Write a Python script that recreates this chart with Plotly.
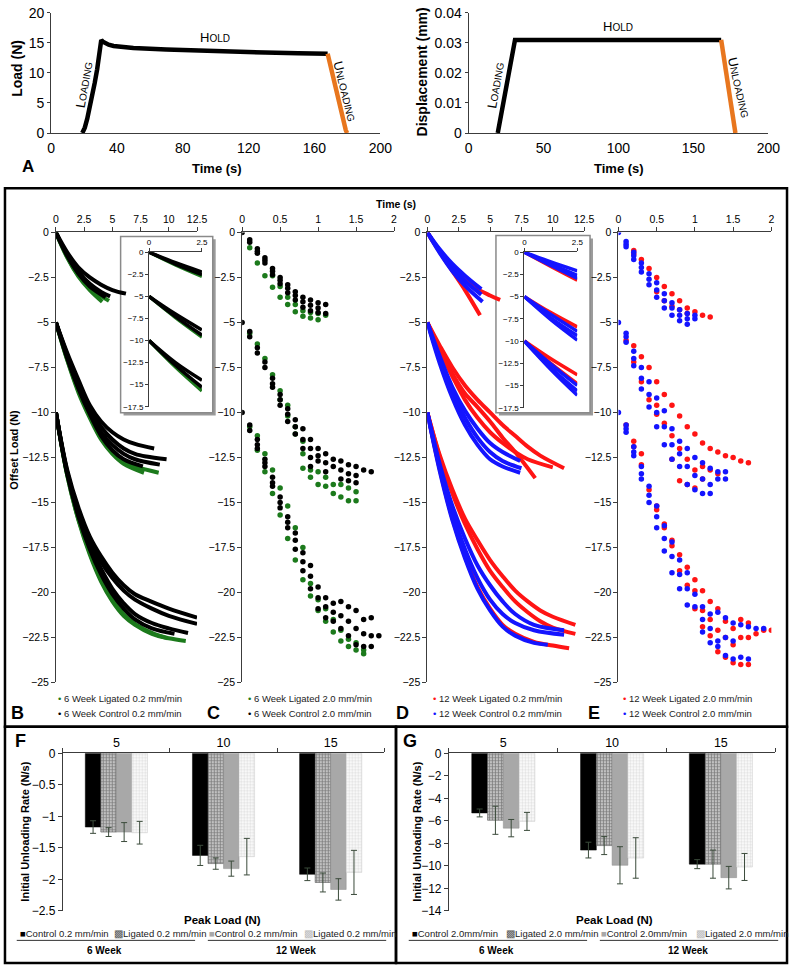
"""Unloading behaviour of the tissue: protocol, offset load curves and initial unloading rates."""

import plotly.graph_objects as go

W, H = 800, 973
FONT = "Liberation Sans, Arial, sans-serif"
GREEN = "#1c7a1c"
RED = "#ff1414"
BLUE = "#1414ff"
ORANGE = "#e8761e"
AXIS = "#3c3c3c"

# ---- panel A: test protocol ----
load_t = [19, 20.5, 22, 23.5, 25, 26.5, 28, 29.5, 30.5, 31.5, 33, 35, 38, 42, 50, 70, 90, 110, 130, 150, 168]
load_n = [0, 0.9, 2.4, 4.2, 6.2, 8.3, 10.6, 13.3, 15.5, 15.2, 14.9, 14.7, 14.5, 14.35, 14.15, 13.9, 13.7, 13.5,
          13.4, 13.3, 13.2]
unload_t = [168, 169, 170, 171, 172, 173, 174, 175, 176, 177, 178, 179, 179.8]
unload_n = [13.2, 12.0, 10.9, 9.7, 8.5, 7.2, 5.9, 4.6, 3.4, 2.3, 1.3, 0.5, 0]
disp_t = [19.5, 31, 168.5]
disp_mm = [0, 0.031, 0.031]
disp_unload_t = [168.5, 178]
disp_unload_mm = [0.031, 0]

# ---- panel B: 6 week, 0.2 mm/min (curves of (time, offset load)) ----
b_lig = [
    [(0, 0), (1, -1.4), (2, -2.45), (3, -3.2), (4.1, -3.85)],
    [(0, 0), (1, -1.35), (2, -2.4), (3, -3.1), (4.7, -3.8)],
    [(0, -5), (1, -7.1), (2, -8.9), (3, -10.3), (4, -11.5), (5, -12.3), (6, -12.85), (7.8, -13.35)],
    [(0, -5), (1, -7.05), (2, -8.8), (3, -10.2), (4, -11.4), (5, -12.2), (6, -12.7), (7, -13.0), (9.1, -13.35)],
    [(0, -10), (1, -13.5), (2, -16.0), (3, -17.9), (4, -19.4), (5, -20.5), (6, -21.3), (7, -21.8),
     (8.5, -22.3), (10, -22.55), (11.5, -22.7)],
    [(0, -10), (1, -13.5), (2, -15.95), (3, -17.8), (4, -19.3), (5, -20.4), (6, -21.2), (7, -21.75),
     (8.5, -22.25), (9.9, -22.55)],
]
b_ctl = [
    [(0, 0), (1, -1.1), (2, -1.95), (3, -2.5), (4, -2.9), (5, -3.2), (6.2, -3.4)],
    [(0, 0), (1, -1.25), (2, -2.2), (3, -2.85), (4, -3.3), (4.8, -3.55)],
    [(0, 0), (1, -1.3), (2, -2.3), (3, -3.0), (4.4, -3.6)],
    [(0, -5), (1, -6.7), (2, -8.2), (3, -9.6), (4, -10.5), (5, -11.1), (6, -11.5), (7, -11.75), (8.7, -12.0)],
    [(0, -5), (1, -6.8), (2, -8.4), (3, -9.8), (4, -10.8), (5, -11.5), (6, -12.0), (7, -12.3), (8, -12.45),
     (9.8, -12.6)],
    [(0, -5), (1, -6.9), (2, -8.6), (3, -10.0), (4, -11.1), (5, -11.8), (6, -12.3), (7, -12.6), (9.2, -12.9)],
    [(0, -5), (1, -7.0), (2, -8.7), (3, -10.1), (4, -11.3), (5, -12.1), (6, -12.6), (7.7, -13.0)],
    [(0, -10), (1, -13.2), (2, -15.3), (3, -16.9), (4, -18.0), (5, -18.9), (6, -19.6), (7, -20.1), (8.4, -20.5),
     (10, -20.9), (12.5, -21.4)],
    [(0, -10), (1, -13.3), (2, -15.5), (3, -17.1), (4, -18.3), (5, -19.2), (6, -19.9), (7, -20.4), (8.5, -20.9),
     (10, -21.3), (12.5, -21.75)],
    [(0, -10), (1, -13.4), (2, -15.7), (3, -17.4), (4, -18.7), (5, -19.8), (6, -20.6), (7, -21.2), (8.5, -21.7),
     (10, -22.0), (11.7, -22.25)],
    [(0, -10), (1, -13.4), (2, -15.8), (3, -17.6), (4, -19.0), (5, -20.1), (6, -20.9), (7, -21.5), (8.5, -22.0),
     (10.5, -22.3)],
]
bi_lig = [
    [(0, 0), (1.25, -1.45), (2.5, -2.75)],
    [(0, -5), (1.25, -7.4), (2.5, -9.6)],
    [(0, -10), (1.25, -13.0), (2.5, -15.7)],
]
bi_ctl = [
    [(0, 0), (1.25, -1.2), (2.5, -2.25)],
    [(0, 0), (1.25, -1.35), (2.5, -2.55)],
    [(0, -5), (1.25, -7.0), (2.5, -8.8)],
    [(0, -5), (1.25, -7.3), (2.5, -9.4)],
    [(0, -10), (1.25, -12.5), (2.5, -14.5)],
    [(0, -10), (1.25, -12.8), (2.5, -15.3)],
]

# ---- panel C: 6 week, 2.0 mm/min (time, [offset loads]) ----
c_lig = [
    (0.1, [-0.85]), (0.2, [-1.7]), (0.3, [-2.4]), (0.4, [-2.4, -3.05]), (0.5, [-3.0, -3.6]),
    (0.6, [-3.6, -4.0]), (0.7, [-4.0, -4.4]), (0.8, [-4.35, -4.65]), (0.9, [-4.45, -4.75]),
    (1.0, [-4.5, -4.85]), (1.1, [-4.6]),
    (0.1, [-5.6]), (0.2, [-6.2]), (0.3, [-7.0]), (0.4, [-7.9]), (0.5, [-8.8, -9.3]), (0.6, [-9.6, -10.2]),
    (0.7, [-10.8, -11.2]), (0.8, [-11.6, -12.3, -13.1]), (0.9, [-13.2, -13.6]), (1.0, [-13.3, -14.0]),
    (1.1, [-13.6, -14.1]), (1.2, [-14.0, -14.5]), (1.3, [-14.0, -14.7]), (1.4, [-14.2, -14.9]),
    (1.5, [-14.4, -14.9]),
    (0.1, [-10.8]), (0.2, [-11.3, -12.1]), (0.3, [-12.3, -13.3]), (0.4, [-13.2, -14.5]), (0.5, [-14.2, -15.7]),
    (0.6, [-15.2, -17.0]), (0.7, [-16.4, -18.2]), (0.8, [-17.5, -19.3]), (0.9, [-19.5, -20.2]),
    (1.0, [-20.4, -21.0]), (1.1, [-20.9, -21.6]), (1.2, [-21.5, -22.2]), (1.3, [-22.1, -22.7]),
    (1.4, [-22.6, -23.0]), (1.5, [-22.8, -23.2]), (1.6, [-23.2, -23.4]),
]
c_ctl = [
    (0, [0, -5, -10]),
    (0.1, [-0.4, -0.55]), (0.2, [-0.9, -1.05, -1.15]), (0.3, [-1.4, -1.55, -1.7]), (0.4, [-2.0, -2.15, -2.35]),
    (0.5, [-2.5, -2.65, -2.85]), (0.6, [-2.9, -3.1, -3.35]), (0.7, [-3.3, -3.5, -3.75]),
    (0.8, [-3.6, -3.85, -4.15]), (0.9, [-3.75, -4.05, -4.35]), (1.0, [-3.9, -4.2, -4.45]), (1.1, [-4.0, -4.5]),
    (0.1, [-5.5, -5.8]), (0.2, [-6.4, -6.7]), (0.3, [-7.2, -7.5]), (0.4, [-8.1, -8.4, -8.6]),
    (0.5, [-9.0, -9.3, -9.6]), (0.6, [-9.8, -10.1, -10.5]), (0.7, [-10.4, -10.8, -11.2]),
    (0.8, [-10.9, -11.5, -12.0]), (0.9, [-11.5, -12.0, -12.5, -13.0]), (1.0, [-12.0, -12.4, -12.7]),
    (1.1, [-12.3, -12.8, -13.3]), (1.2, [-12.6, -13.0]), (1.3, [-12.7, -13.2, -13.7]),
    (1.4, [-12.9, -13.4, -13.8]), (1.5, [-13.0, -13.5, -13.9]), (1.6, [-13.2]), (1.7, [-13.3]),
    (0.1, [-10.7, -11.0]), (0.2, [-11.5, -11.8, -12.0]), (0.3, [-12.6, -12.8, -13.0]),
    (0.4, [-13.6, -13.9, -14.1]), (0.5, [-14.7, -15.0, -15.3]), (0.6, [-15.8, -16.1, -16.4]),
    (0.7, [-16.7, -17.1, -17.6]), (0.8, [-17.8, -18.3, -18.8]), (0.9, [-18.5, -19.1, -19.8]),
    (1.0, [-19.7, -20.3, -20.9]), (1.1, [-20.3, -20.8, -21.4]), (1.2, [-20.6, -21.1, -21.6]),
    (1.3, [-20.5, -21.3, -22.0]), (1.4, [-20.8, -21.6, -22.4]), (1.5, [-21.0, -22.0, -22.9]),
    (1.6, [-21.5, -22.3, -23.0]), (1.7, [-21.4, -22.4, -23.0]), (1.8, [-22.4]),
]

# ---- panel D: 12 week, 0.2 mm/min ----
d_lig = [
    [(0, 0), (1, -1.05), (2, -1.95), (3, -2.65), (4, -3.15), (5, -3.5), (5.8, -3.75)],
    [(0, 0), (1, -1.1), (2, -2.15), (3, -3.2), (4.2, -4.6)],
    [(0, -5), (1, -6.3), (2, -7.5), (3, -8.5), (4, -9.3), (5, -10.0), (6, -10.7), (7, -11.3), (8, -11.9),
     (9, -12.4), (10.9, -13.1)],
    [(0, -5), (1, -6.5), (2, -7.85), (3, -8.95), (4, -9.7), (5, -10.5), (6, -11.4), (7, -12.2), (8.6, -13.65)],
    [(0, -5), (1, -6.6), (2, -8.0), (3, -9.3), (4, -10.3), (5, -11.1), (6, -11.7), (7, -12.2), (8, -12.6),
     (10, -13.05)],
    [(0, -10), (1, -12.4), (2, -14.3), (3, -15.9), (4, -17.1), (5, -18.2), (6, -19.1), (7, -19.9), (8, -20.5),
     (9, -21.0), (10, -21.35), (11.8, -21.8)],
    [(0, -10), (1, -12.5), (2, -14.5), (3, -16.2), (4, -17.6), (5, -18.8), (6, -19.7), (7, -20.5), (8, -21.1),
     (9, -21.6), (10, -21.95), (11.8, -22.3)],
    [(0, -10), (1, -13.2), (2, -15.9), (3, -18.0), (4, -19.7), (5, -20.9), (6, -21.8), (7, -22.3), (8.5, -22.75),
     (10, -22.95), (11.3, -23.1)],
]
d_ctl = [
    [(0, 0), (1, -0.95), (2, -1.75), (3, -2.4), (4.3, -3.15)],
    [(0, 0), (1, -1.05), (2, -1.95), (3, -2.7), (4.3, -3.45)],
    [(0, 0), (1, -1.15), (2, -2.15), (3, -2.95), (4.4, -3.85)],
    [(0, -5), (1, -6.9), (2, -8.6), (3, -9.9), (4, -10.9), (5, -11.7), (6, -12.2), (7.4, -12.7)],
    [(0, -5), (1, -7.1), (2, -8.9), (3, -10.3), (4, -11.4), (5, -12.2), (6, -12.7), (7.5, -13.1)],
    [(0, -5), (1, -7.3), (2, -9.2), (3, -10.7), (4, -11.8), (5, -12.6), (6, -13.0), (7.4, -13.35)],
    [(0, -10), (1, -12.9), (2, -15.2), (3, -17.0), (4, -18.5), (5, -19.6), (6, -20.5), (7, -21.2), (8.5, -21.8),
     (10.9, -22.1)],
    [(0, -10), (1, -13.1), (2, -15.6), (3, -17.6), (4, -19.2), (5, -20.4), (6, -21.2), (7, -21.7), (8.5, -22.1),
     (10.9, -22.35)],
    [(0, -10), (1, -13.3), (2, -16.0), (3, -18.1), (4, -19.8), (5, -21.0), (6, -21.9), (7, -22.4), (8.5, -22.8),
     (9.6, -22.9)],
]
di_lig = [
    [(0, 0), (1.25, -1.6), (2.5, -3.15)],
    [(0, -5), (1.25, -6.8), (2.5, -8.4)],
    [(0, -10), (1.25, -12.0), (2.5, -13.8)],
    [(0, -10), (1.25, -12.5), (2.5, -14.8)],
]
di_ctl = [
    [(0, 0), (1.25, -1.1), (2.5, -2.1)],
    [(0, 0), (1.25, -1.35), (2.5, -2.6)],
    [(0, 0), (1.25, -1.5), (2.5, -2.95)],
    [(0, -5), (1.25, -7.0), (2.5, -8.9)],
    [(0, -5), (1.25, -7.4), (2.5, -9.4)],
    [(0, -5), (1.25, -7.6), (2.5, -9.9)],
    [(0, -10), (1.25, -12.6), (2.5, -15.0)],
    [(0, -10), (1.25, -13.0), (2.5, -15.6)],
    [(0, -10), (1.25, -13.2), (2.5, -16.1)],
]

# ---- panel E: 12 week, 2.0 mm/min ----
e_lig = [
    (0.2, [-1.0, -1.2]), (0.3, [-1.5]), (0.4, [-2.0]), (0.5, [-2.5, -3.3]), (0.6, [-3.0, -3.8]),
    (0.7, [-3.4, -4.1]), (0.8, [-3.8, -4.3]), (0.9, [-4.2, -4.5]), (1.0, [-4.4]), (1.1, [-4.6]), (1.2, [-4.7]),
    (0.1, [-6.0]), (0.2, [-6.3, -7.2]), (0.3, [-6.9, -8.3]), (0.4, [-7.5, -9.3]), (0.5, [-8.3, -9.6, -10.1]),
    (0.6, [-9.0, -10.6]), (0.7, [-9.6, -11.3, -12.6]), (0.8, [-10.2, -12.0, -13.8]),
    (0.9, [-10.8, -12.6, -14.0]), (1.0, [-11.2, -13.2, -14.2]), (1.1, [-11.7, -13.0, -13.7]),
    (1.2, [-12.0, -13.2]), (1.3, [-12.2, -13.4]), (1.4, [-12.4]), (1.5, [-12.5]), (1.6, [-12.7]), (1.7, [-12.8]),
    (0.1, [-10.7]), (0.2, [-11.6, -11.9]), (0.3, [-12.3, -12.9]), (0.4, [-14.3]), (0.5, [-15.2, -15.4]),
    (0.6, [-16.2, -16.4]), (0.7, [-17.1, -17.4]), (0.8, [-17.9, -18.8]), (0.9, [-18.6, -19.6]),
    (1.0, [-19.3, -19.9, -20.9]), (1.1, [-19.9, -21.0, -21.9]), (1.2, [-20.5, -21.5, -22.4]),
    (1.3, [-20.9, -22.1, -23.3]), (1.4, [-21.6, -22.5, -23.6]), (1.5, [-22.0, -22.9, -23.9]),
    (1.6, [-21.5, -22.5, -24.0]), (1.7, [-21.7, -22.5, -24.0]), (1.8, [-22.3]), (1.9, [-22.1]), (2.0, [-22.1]),
]
e_ctl = [
    (0, [0, -5, -10]),
    (0.1, [-0.5, -0.65, -0.8]), (0.2, [-1.1, -1.3, -1.5]), (0.3, [-1.7, -1.95, -2.2]), (0.4, [-2.3, -2.6, -2.9]),
    (0.5, [-2.8, -3.2, -3.6]), (0.6, [-3.4, -3.8, -4.2]), (0.7, [-3.9, -4.2, -4.6]), (0.8, [-4.3, -4.6, -4.9]),
    (0.9, [-4.5, -4.8, -5.1]), (1.0, [-4.6, -4.8]),
    (0.1, [-5.6, -5.8, -6.1]), (0.2, [-6.6, -7.0, -7.4]), (0.3, [-7.5, -8.1, -8.7]), (0.4, [-8.3, -9.0, -9.7]),
    (0.5, [-9.2, -10.0, -10.8]), (0.6, [-9.9, -10.8, -11.8]), (0.7, [-10.9, -11.8, -12.6]),
    (0.8, [-11.6, -12.3, -13.0]), (0.9, [-12.0, -13.0, -14.0]), (1.0, [-12.5, -13.5, -14.3]),
    (1.1, [-12.8, -13.7, -14.5]), (1.2, [-13.1, -14.0, -14.5]), (1.3, [-13.3, -13.7]), (1.4, [-13.3, -13.7]),
    (0.1, [-10.7, -10.9, -11.1]), (0.2, [-11.9, -12.2, -12.4]), (0.3, [-13.0, -13.4, -13.7]),
    (0.4, [-14.1, -14.6, -15.0]), (0.5, [-15.2, -15.8, -16.4]), (0.6, [-16.3, -17.0, -17.7]),
    (0.7, [-17.2, -18.0, -18.9]), (0.8, [-18.2, -19.0, -19.8]), (0.9, [-18.9, -19.8, -20.7]),
    (1.0, [-20.1, -20.8]), (1.1, [-20.8, -21.5, -22.2]), (1.2, [-21.2, -22.0, -22.8]),
    (1.3, [-21.1, -22.7, -23.0]), (1.4, [-21.4, -22.5, -23.5]), (1.5, [-21.7, -22.7, -23.7]),
    (1.6, [-21.8, -23.6]), (1.7, [-21.9, -23.7]), (1.8, [-22.0]), (1.9, [-22.0]),
]

# ---- panels F and G: initial unloading rate (N/s), mean and error ----
peak_loads = ["5", "10", "15"]
f_ctl6, f_ctl6_err = [-1.17, -1.62, -1.92], [0.10, 0.16, 0.10]
f_lig6, f_lig6_err = [-1.25, -1.75, -2.05], [0.07, 0.09, 0.15]
f_ctl12, f_ctl12_err = [-1.25, -1.83, -2.16], [0.15, 0.12, 0.17]
f_lig12, f_lig12_err = [-1.26, -1.64, -1.89], [0.18, 0.29, 0.35]
g_ctl6, g_ctl6_err = [-5.3, -8.6, -9.85], [0.35, 0.7, 0.4]
g_lig6, g_lig6_err = [-5.95, -8.2, -9.85], [1.25, 0.8, 1.25]
g_ctl12, g_ctl12_err = [-6.65, -9.95, -11.05], [0.77, 1.65, 1.0]
g_lig12, g_lig12_err = [-6.05, -9.3, -10.1], [0.8, 1.8, 1.2]


def px(x):
    return x / W


def py(y):
    return 1 - y / H


def ref(n):
    return "" if n == 1 else str(n)


fig = go.Figure()


def add_curves(curves, color, n, width=4):
    for pts in curves:
        fig.add_trace(go.Scatter(
            x=[p[0] for p in pts], y=[p[1] for p in pts], mode="lines",
            line=dict(color=color, width=width, shape="spline"),
            xaxis="x" + ref(n), yaxis="y" + ref(n), showlegend=False, hoverinfo="skip",
        ))


def add_dots(cols, color, n):
    xs, ys = [], []
    for t, vals in cols:
        for v in vals:
            xs.append(t)
            ys.append(v)
    fig.add_trace(go.Scatter(
        x=xs, y=ys, mode="markers", marker=dict(color=color, size=5.5),
        xaxis="x" + ref(n), yaxis="y" + ref(n), showlegend=False, hoverinfo="skip",
    ))


# panel A
for t, v, c in [(load_t, load_n, "#000"), (unload_t, unload_n, ORANGE)]:
    fig.add_trace(go.Scatter(x=t, y=v, mode="lines", line=dict(color=c, width=4.5),
                             xaxis="x", yaxis="y", showlegend=False))
for t, v, c in [(disp_t, disp_mm, "#000"), (disp_unload_t, disp_unload_mm, ORANGE)]:
    fig.add_trace(go.Scatter(x=t, y=v, mode="lines", line=dict(color=c, width=4.5),
                             xaxis="x2", yaxis="y2", showlegend=False))

# panels B-E
add_curves(b_lig, GREEN, 3)
add_curves(b_ctl, "#000", 3)
add_curves(bi_lig, GREEN, 4, width=3.5)
add_curves(bi_ctl, "#000", 4, width=3.5)
add_dots(c_lig, GREEN, 5)
add_dots(c_ctl, "#000", 5)
add_curves(d_lig, RED, 6)
add_curves(d_ctl, BLUE, 6)
add_curves(di_lig, RED, 7, width=3.5)
add_curves(di_ctl, BLUE, 7, width=3.5)
add_dots(e_lig, RED, 8)
add_dots(e_ctl, BLUE, 8)

# panels F, G
BAR_STYLES = [
    dict(color="#000", line=dict(color="#000", width=0.5)),
    dict(color="#fff", line=dict(color="#444", width=0.5),
         pattern=dict(shape=".", fgcolor="#000", bgcolor="#fff", size=3, solidity=0.7)),
    dict(color="#a8a8a8", line=dict(color="#8c8c8c", width=0.5)),
    dict(color="#fff", line=dict(color="#c8c8c8", width=0.5),
         pattern=dict(shape=".", fgcolor="#c4c4c4", bgcolor="#fff", size=3, solidity=0.5)),
]
for n, series in [
    (9, [(f_ctl6, f_ctl6_err), (f_lig6, f_lig6_err), (f_ctl12, f_ctl12_err), (f_lig12, f_lig12_err)]),
    (10, [(g_ctl6, g_ctl6_err), (g_lig6, g_lig6_err), (g_ctl12, g_ctl12_err), (g_lig12, g_lig12_err)]),
]:
    for (vals, errs), style in zip(series, BAR_STYLES):
        fig.add_trace(go.Bar(
            x=peak_loads, y=vals, marker=style,
            error_y=dict(type="data", array=errs, color="#3b4b3b", thickness=1, width=3),
            xaxis="x" + ref(n), yaxis="y" + ref(n), showlegend=False, hoverinfo="skip",
        ))


def axis(x0, x1, rng, dtick, side, anchor, size, horizontal=True, **extra):
    d = dict(
        domain=[px(x0), px(x1)] if horizontal else [py(x1), py(x0)],
        range=rng, dtick=dtick, side=side, anchor=anchor,
        showline=True, linecolor=AXIS, linewidth=1, ticks="outside", ticklen=4, tickcolor=AXIS,
        showgrid=False, zeroline=False, tickfont=dict(size=size, color="#000"), fixedrange=True,
    )
    d.update(extra)
    return d


layout = dict(
    width=W, height=H, margin=dict(l=0, r=0, t=0, b=0),
    paper_bgcolor="#fff", plot_bgcolor="rgba(0,0,0,0)",
    font=dict(family=FONT, color="#000"), hovermode=False,
    barmode="group", bargap=0.42, bargroupgap=0,
)

layout["xaxis"] = axis(48, 384, [0, 200], 40, "bottom", "y", 14, ticks="", ticklabelstandoff=2)
layout["yaxis"] = axis(6, 128, [0, 20], 5, "left", "x", 14, horizontal=False, ticklen=3)
layout["xaxis2"] = axis(474, 780, [0, 200], 50, "bottom", "y2", 14, ticks="", ticklabelstandoff=2)
layout["yaxis2"] = axis(6, 128, [0, 0.04], 0.01, "left", "x2", 14, horizontal=False, ticklen=3)

for n, (x0, x1), xr, xd in [
    (3, (53, 197), [0, 12.5], 2.5),
    (5, (243, 398), [0, 2], 0.5),
    (6, (432, 592), [0, 12.5], 2.5),
    (8, (627, 783), [0, 2], 0.5),
]:
    layout["xaxis" + ref(n)] = axis(x0, x1, xr, xd, "top", "y" + ref(n), 10.5)
    layout["yaxis" + ref(n)] = axis(229, 686, [-25, 0], 2.5, "left", "x" + ref(n), 10.5, horizontal=False)

for n, (x0, x1), (y0, y1) in [(4, (148, 202), (249, 406)), (7, (531, 585), (249, 407))]:
    layout["xaxis" + ref(n)] = axis(x0, x1, [0, 2.5], 2.5, "top", "y" + ref(n), 8, ticklen=3)
    layout["yaxis" + ref(n)] = axis(y0, y1, [-17.5, 0], 2.5, "left", "x" + ref(n), 8,
                                    horizontal=False, ticklen=3)

for n, (x0, x1), yr, yd in [(9, (60, 388), [-2.5, 0], 0.5), (10, (454, 787), [-14, 0], 2)]:
    layout["xaxis" + ref(n)] = dict(
        domain=[px(x0), px(x1)], side="top", anchor="y" + ref(n), type="category",
        showline=True, linecolor=AXIS, linewidth=1, ticks="outside", ticklen=4, tickcolor=AXIS,
        tickson="boundaries", showgrid=False, tickfont=dict(size=12.5, color="#000"), fixedrange=True,
    )
    layout["yaxis" + ref(n)] = axis(758, 918, yr, yd, "left", "x" + ref(n), 12, horizontal=False)

fig.update_layout(**layout)


def ann(x, y, text, size, angle=0, xanchor="center", color="#000"):
    fig.add_annotation(x=px(x), y=py(y), xref="paper", yref="paper", text=text, showarrow=False,
                       font=dict(size=size, color=color, family=FONT), textangle=angle,
                       xanchor=xanchor, yanchor="middle")


def small_caps(first, rest):
    return f"{first}<span style='font-size:10px'>{rest}</span>"


# panel A texts
ann(13, 62, "<b>Load (N)</b>", 14, angle=-90)
ann(427, 66, "<b>Displacement (mm)</b>", 14, angle=-90)
ann(217, 164, "<b>Time (s)</b>", 13)
ann(628, 164, "<b>Time (s)</b>", 13)
ann(82, 79, small_caps("L", "OADING"), 13, angle=-80)
ann(215, 31, small_caps("H", "OLD"), 13)
ann(348, 86, small_caps("U", "NLOADING"), 13, angle=76)
ann(502, 79, small_caps("L", "OADING"), 13, angle=-80)
ann(627, 20, small_caps("H", "OLD"), 13)
ann(750, 82, small_caps("U", "NLOADING"), 13, angle=77)

# panels B-E texts
ann(400, 200, "<b>Time (s)</b>", 10.5)
ann(10, 450, "<b>Offset Load (N)</b>", 11, angle=-90)
for x, c1, t1, c2, t2 in [
    (53, GREEN, "6 Week Ligated 0.2 mm/min", "#000", "6 Week Control 0.2 mm/min"),
    (247, GREEN, "6 Week Ligated 2.0 mm/min", "#000", "6 Week Control 2.0 mm/min"),
    (436, RED, "12 Week Ligated 0.2 mm/min", BLUE, "12 Week Control 0.2 mm/min"),
    (630, RED, "12 Week Ligated 2.0 mm/min", BLUE, "12 Week Control 2.0 mm/min"),
]:
    ann(x, 702, f"<span style='color:{c1}'>•</span> {t1}", 9.5, xanchor="left", color="#222")
    ann(x, 718, f"<span style='color:{c2}'>•</span> {t2}", 9.5, xanchor="left", color="#222")

for x, y, letter, size in [(24, 162, "A", 17), (14, 717, "B", 18), (214, 717, "C", 18), (407, 717, "D", 18),
                           (602, 717, "E", 18), (17, 746, "F", 18), (414, 746, "G", 18)]:
    ann(x, y, f"<b>{letter}</b>", size)

# panels F, G texts
for off, rate in [(0, "0.2 mm/min"), (400, "2.0mm/min")]:
    lig_rate = "0.2 mm/min" if off == 0 else "2.0 mm/min"
    ann(22 + off, 838, "<b>Initial Unloading Rate (N/s)</b>", 11, angle=-90)
    ann(223 + off, 927, "<b>Peak Load (N)</b>", 11.5)
    ann(14 + off, 941, f"<span style='color:#000'>■</span>Control {rate}", 9.5, xanchor="left", color="#222")
    ann(110 + off, 941, f"<span style='color:#555'>▩</span>Ligated {lig_rate}", 9.5, xanchor="left",
        color="#222")
    ann(207 + off, 941, f"<span style='color:#a8a8a8'>■</span>Control {rate}", 9.5, xanchor="left",
        color="#222")
    ann(304 + off, 941, f"<span style='color:#bbb'>▩</span>Ligated {lig_rate}", 9.5, xanchor="left",
        color="#222")
    ann(103 + off, 958, "<b>6 Week</b>", 10)
    ann(298 + off, 958, "<b>12 Week</b>", 10)

shapes = []


def rect(x0, y0, x1, y1, **kw):
    shapes.append(dict(type="rect", xref="paper", yref="paper",
                       x0=px(x0), y0=py(y1), x1=px(x1), y1=py(y0), **kw))


# inset boxes with shadows
for x0, y0, x1, y1 in [(119, 233, 213, 412), (502, 232, 598, 412)]:
    rect(x0 + 3, y0 + 3, x1 + 3, y1 + 3, fillcolor="#9a9a9a", line=dict(width=0), layer="below")
    rect(x0, y0, x1, y1, fillcolor="#fff", line=dict(color="#8a8a8a", width=1.5), layer="below")

# panel frames
rect(1, 184, 799, 731, line=dict(color="#000", width=2.5))
rect(1, 731, 400, 971, line=dict(color="#000", width=2.5))
rect(400, 731, 799, 971, line=dict(color="#000", width=2.5))

# group underlines below the bar legends
for x0, x1 in [(13, 195), (208, 390), (413, 595), (608, 790)]:
    shapes.append(dict(type="line", xref="paper", yref="paper", x0=px(x0), x1=px(x1),
                       y0=py(948), y1=py(948), line=dict(color="#333", width=1)))

fig.update_layout(shapes=shapes)
fig.write_html(
    "out.html",
    config={"displayModeBar": False},
    post_script="document.body.style.margin='0';document.body.style.overflow='hidden';",
)
